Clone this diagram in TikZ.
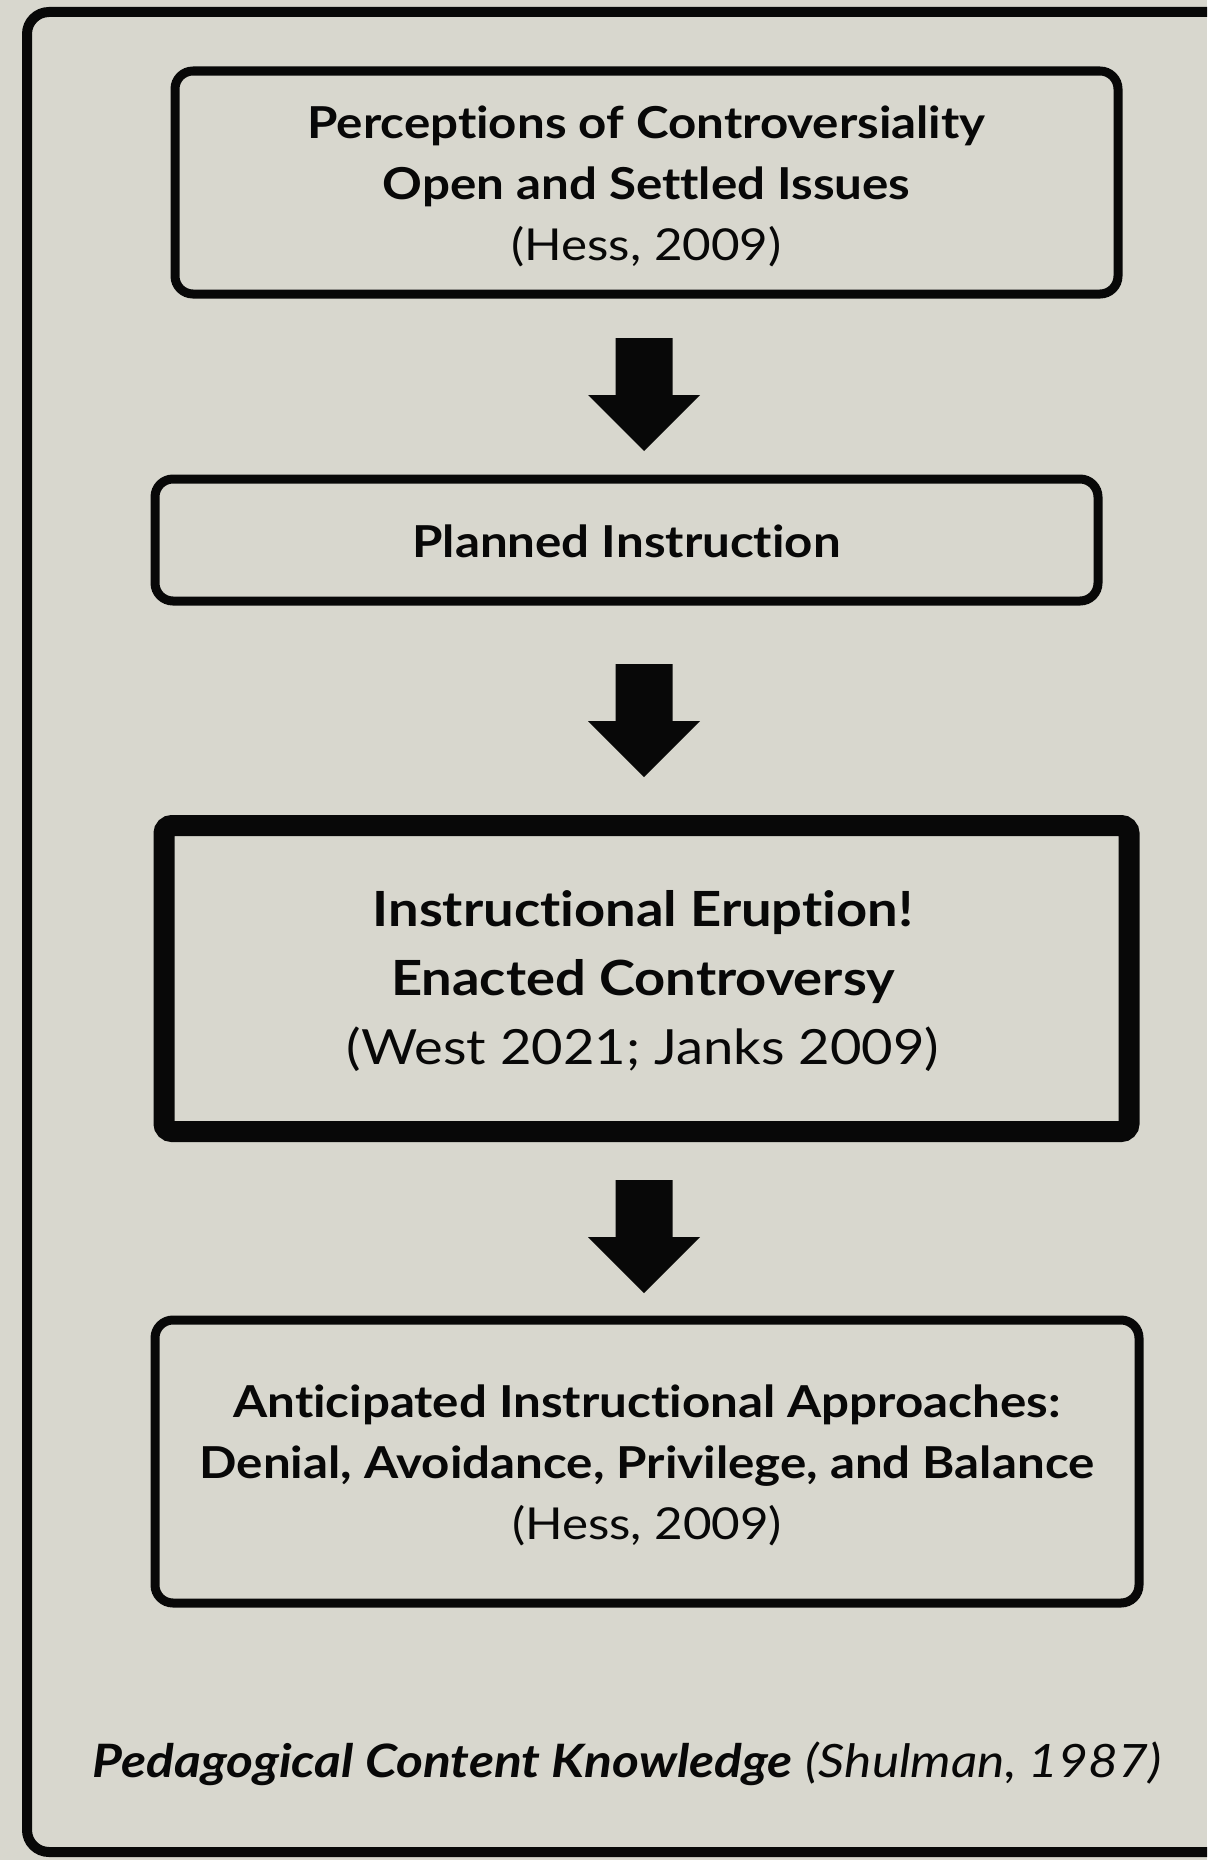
\documentclass[tikz,border=0pt]{standalone}
\usepackage{fontspec}
\setmainfont[Ligatures=NoCommon,FakeStretch=1.12]{Lato}
\definecolor{bgc}{RGB}{216,215,206}
\definecolor{ink}{RGB}{8,8,8}
\begin{document}
\begin{tikzpicture}[x=1pt,y=-1pt,
  box/.style={draw=ink,line width=9pt,rounded corners=18pt,inner sep=0pt},
  bigbox/.style={draw=ink,line width=21pt,rounded corners=8pt,inner sep=0pt},
  txt/.style={font=\fontsize{44}{61}\selectfont,text=ink,align=center,inner sep=0pt}]
\path[fill=bgc] (0,0) rectangle (1207,1860);
\useasboundingbox (0,0) rectangle (1207,1860);
\begin{scope}
\clip (0,0) rectangle (1207,1860);
\draw[ink,line width=10pt,rounded corners=22pt] (27,12) rectangle (1240,1852);
\end{scope}
% boxes
\node[box,minimum width=943pt,minimum height=223pt] (b1) at (646.5,182.5) {};
\node[txt] (t1) at (646.5,186)
  {\textbf{Perceptions of Controversiality}\\\textbf{Open and Settled Issues}\\(Hess, 2009)};
\node[box,minimum width=943pt,minimum height=122pt] (b2) at (626.5,540) {};
\node[txt] (t2) at (626.5,541) {\textbf{Planned Instruction}};
\node[bigbox,minimum width=965pt,minimum height=306pt] (b3) at (646.5,978.5) {};
\node[txt,font=\fontsize{48.5}{69}\selectfont] (t3) at (643,981)
  {\textbf{Instructional Eruption!}\\\textbf{Enacted Controversy}\\(West 2021; Janks 2009)};
\node[box,minimum width=984pt,minimum height=283pt] (b4) at (647,1461.5) {};
\node[txt] (t4) at (647,1465.5)
  {\textbf{Anticipated Instructional Approaches:}\\\textbf{Denial, Avoidance, Privilege, and Balance}\\(Hess, 2009)};
\node[font=\fontsize{46}{55}\selectfont,text=ink] (pck) at (627,1764)
  {\textbf{\textit{Pedagogical Content Knowledge}} \textit{(Shulman, 1987)}};
% block arrows
\coordinate (a1) at (644,338);
\coordinate (a2) at (644,664);
\coordinate (a3) at (644,1180);
\foreach \a in {a1,a2,a3}{
  \fill[ink] (\a) ++(-28.5,0) -- ++(57,0) -- ++(0,57) -- ++(27.5,0) -- ++(-56,56) -- ++(-56,-56) -- ++(27.5,0) -- cycle;
}
\end{tikzpicture}
\end{document}
